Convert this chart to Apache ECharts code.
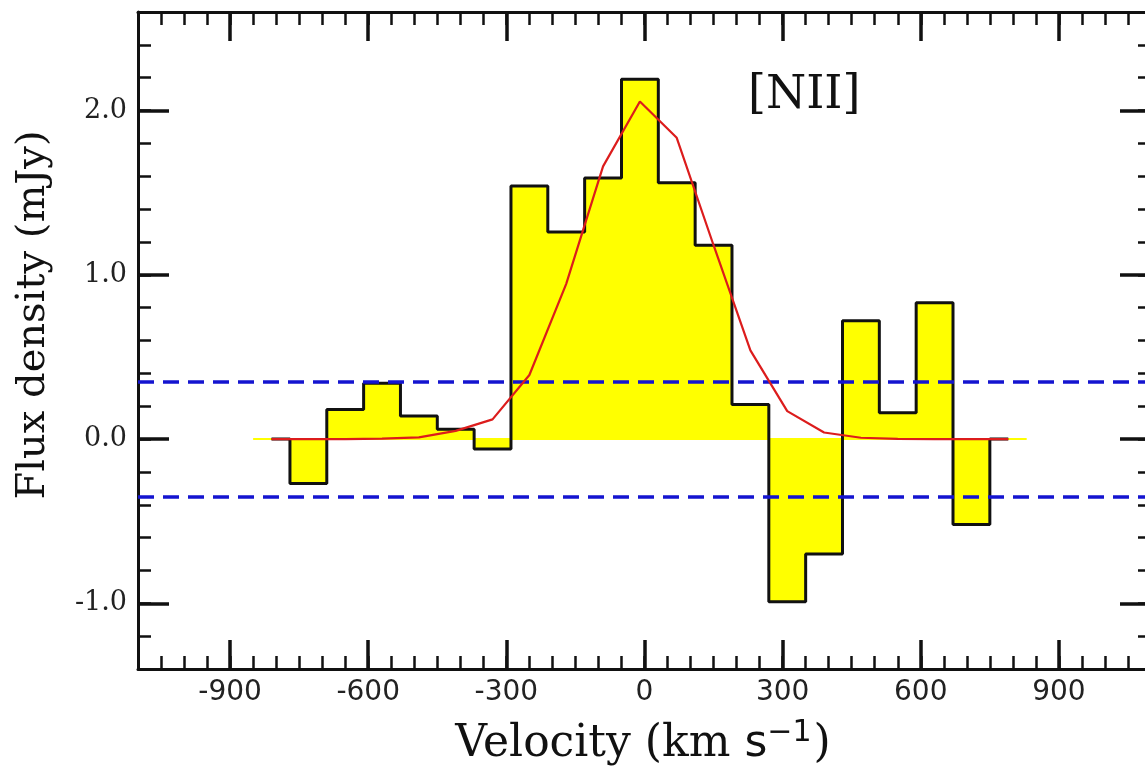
<!DOCTYPE html>
<html>
<head>
<meta charset="utf-8">
<title>[NII] spectrum</title>
<script src="https://cdn.jsdelivr.net/npm/echarts@6/dist/echarts.min.js"></script>
<style>
	html, body { margin: 0; padding: 0; background: #fff; }
	#chart { width: 1145px; height: 773px; }
</style>
</head>
<body>
<div id="chart"></div>
<script>
( function() {

	// channel centres (km/s) and measured flux (mJy)
	const velocity = [-810, -730, -650, -570, -490, -410, -330, -250, -170, -90, -10, 70, 150, 230, 310, 390, 470, 550, 630, 710, 790];
	const flux = [0.0, -0.27, 0.18, 0.34, 0.14, 0.06, -0.06, 1.54, 1.26, 1.59, 2.19, 1.56, 1.18, 0.21, -0.99, -0.70, 0.72, 0.16, 0.83, -0.52, 0.0];
	// gaussian fit read at the same channels
	const model = [0.0, 0.0, 0.0, 0.002, 0.01, 0.05, 0.12, 0.39, 0.945, 1.66, 2.055, 1.834, 1.18, 0.54, 0.17, 0.04, 0.008, 0.001, 0.0, 0.0, 0.0];
	const noiseLevels = [0.35, -0.35];
	const fillSpan = [-850, 830];

	const xMajorTicks = [-900, -600, -300, 0, 300, 600, 900];
	const yMajorTicks = [-1.0, 0.0, 1.0, 2.0];

	const black = '#111';

	const makeX = function( position, major, labels ) {
		return {
			type: 'value', position: position, min: -1100, max: 1100, interval: 50,
			splitLine: { show: false },
			axisLine: { show: !major, onZero: false, lineStyle: { color: black, width: 3 } },
			axisTick: {
				show: true, inside: true,
				length: major ? 29 : 13,
				customValues: major ? xMajorTicks : undefined,
				lineStyle: { color: black, width: major ? 3.5 : 2.5 }
			},
			axisLabel: {
				show: labels, customValues: xMajorTicks, margin: 10,
				fontFamily: 'DejaVu Sans', fontSize: 28, color: '#222',
				formatter: v => String(v)
			}
		};
	}

	const makeY = function( position, major, labels ) {
		return {
			type: 'value', position: position, min: -1.4, max: 2.6, interval: 0.2,
			splitLine: { show: false },
			axisLine: { show: !major, onZero: false, lineStyle: { color: black, width: 3 } },
			axisTick: {
				show: true, inside: true,
				length: major ? 31 : 13,
				customValues: major ? yMajorTicks : undefined,
				lineStyle: { color: black, width: major ? 3.5 : 2.5 }
			},
			axisLabel: {
				show: labels, customValues: yMajorTicks, margin: 11,
				fontFamily: 'DejaVu Serif', fontSize: 27, color: '#222',
				formatter: v => v.toFixed(1)
			}
		};
	}

	const pairs = ys => velocity.map((v, i) => [v, ys[i]]);

	const option = {
		animation: false,
		backgroundColor: '#fff',
		grid: { left: 138, right: -6, top: 12, bottom: 104, outerBoundsMode: 'none' },
		xAxis: [ makeX('bottom', false, true), makeX('bottom', true, false), makeX('top', false, false), makeX('top', true, false) ],
		yAxis: [ makeY('left', false, true), makeY('left', true, false), makeY('right', false, false), makeY('right', true, false) ],
		series: [
			{
				type: 'line', name: 'fill edge', z: 1,
				data: fillSpan.map(v => [v, 0]),
				showSymbol: false,
				lineStyle: { color: '#ffff00', width: 2 }
			},
			{
				type: 'line', name: 'flux', step: 'middle', z: 2,
				data: pairs(flux),
				showSymbol: false,
				lineStyle: { color: black, width: 3 },
				areaStyle: { color: '#ffff00', opacity: 1, origin: 0 },
				markLine: {
					silent: true, symbol: ['none', 'none'], z: 3,
					label: { show: false },
					lineStyle: { color: '#1414d0', width: 3.5, type: [16, 9] },
					data: noiseLevels.map(v => ({ yAxis: v }))
				}
			},
			{
				type: 'line', name: 'fit', z: 4,
				data: pairs(model),
				showSymbol: false,
				lineStyle: { color: '#dc1c1c', width: 2.2 }
			}
		],
		graphic: [
			{
				type: 'text', x: 748, y: 96,
				style: { text: '[NII]', fontFamily: 'DejaVu Serif', fontSize: 46, fill: '#111', textVerticalAlign: 'middle' }
			},
			{
				type: 'text', x: 34, y: 315, rotation: Math.PI / 2,
				style: { text: 'Flux density (mJy)', fontFamily: 'DejaVu Serif', fontSize: 40, fill: '#111', align: 'center', verticalAlign: 'middle' }
			},
			{
				type: 'text', x: 643, y: 745,
				style: {
					text: '{a|Velocity (km }{b|s}{c|\u22121}{a|)}',
					align: 'center', verticalAlign: 'middle',
					rich: {
						a: { fontFamily: 'DejaVu Serif', fontSize: 44, fill: '#111' },
						b: { fontFamily: 'DejaVu Sans', fontSize: 44, fill: '#111' },
						c: { fontFamily: 'DejaVu Sans', fontSize: 30, fill: '#111', padding: [0, 2, 24, 0] }
					}
				}
			}
		]
	};

	document.addEventListener("DOMContentLoaded", function() {
		const chart = echarts.init(document.getElementById('chart'));
		chart.setOption(option);
	});

}() );
</script>
</body>
</html>
